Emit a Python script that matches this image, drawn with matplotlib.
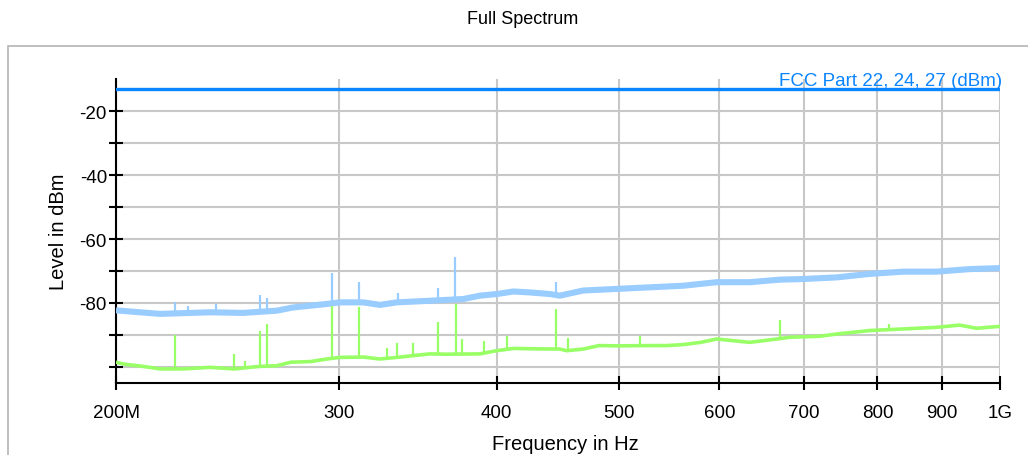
import numpy as np
import matplotlib
matplotlib.use("Agg")
import matplotlib.pyplot as plt
from matplotlib.patches import Rectangle
from matplotlib.ticker import FixedLocator, NullLocator

plt.rcParams['font.family'] = ['Liberation Sans', 'DejaVu Sans']

# --- data (frequency in MHz, level in dBm) ---
fcc_limit = -13
fcc_label = "FCC Part 22, 24, 27 (dBm)"

blue_freq = [200, 216.7, 237.4, 252, 268, 276, 293.6, 300.6, 313.8, 323.4,
             333.4, 354.2, 376.4, 388, 400, 412.4, 425, 440.6, 448.8, 468.2,
             497.6, 528.6, 561.8, 597, 634, 669.8, 698.8, 742.6, 789, 838.8,
             891.2, 946.4, 1000]
blue_level = [-82.3, -83.4, -82.9, -83.1, -82.4, -81.4, -80.3, -79.8, -79.8, -80.6,
              -79.8, -79.3, -78.75, -77.7, -77.2, -76.4, -76.7, -77.2, -77.7, -76.1,
              -75.6, -75.1, -74.6, -73.5, -73.5, -72.7, -72.5, -72.0, -70.9, -70.2,
              -70.2, -69.4, -69.1]

blue_spike_freq = [222.8, 228.2, 240, 259.9, 263.4, 296.6, 311.4, 334.4, 359.2, 370.8, 445.6]
blue_spike_peak = [-79.8, -80.8, -80.3, -77.4, -78.5, -70.6, -73.5, -77.0, -75.3, -65.7, -73.5]

green_freq = [200, 203, 210, 216.7, 226, 237.4, 248, 259.9, 268, 275,
              285, 293.6, 300.6, 313.8, 323.4, 333.4, 354.2, 365, 388, 400,
              412.4, 425, 448.8, 454.4, 468.2, 482, 497.6, 528.6, 545, 561.8,
              580, 597, 634, 666, 682, 720, 742.6, 789, 838.8, 891.2,
              929, 958, 1000]
green_level = [-98.5, -99.1, -99.8, -100.6, -100.6, -100.1, -100.6, -99.8, -99.6, -98.5,
               -98.3, -97.5, -97.0, -96.9, -97.5, -97.0, -95.9, -96.0, -95.9, -94.9,
               -94.2, -94.3, -94.4, -94.9, -94.4, -93.3, -93.4, -93.3, -93.3, -93.0,
               -92.3, -91.25, -92.3, -91.25, -90.7, -90.4, -89.7, -88.6, -88.1, -87.6,
               -86.9, -87.9, -87.3]

green_spike_freq = [222.8, 248, 253, 259.9, 263.4, 296.6, 311.4, 327.8, 333.4, 343.6,
                    359.2, 371.1, 375.7, 391.2, 407.2, 445.4, 455.8, 519.2, 669.4, 817.4]
green_spike_peak = [-90.0, -95.9, -98.2, -88.8, -86.6, -81.0, -81.4, -94.2, -92.6, -92.6,
                    -85.8, -80.3, -91.4, -92.0, -90.4, -81.9, -91.0, -90.4, -85.2, -86.6]

x_ticks = [200, 300, 400, 500, 600, 700, 800, 900, 1000]
x_ticklabels = ["200M", "300", "400", "500", "600", "700", "800", "900", "1G"]
y_ticks = [-100, -90, -80, -70, -60, -50, -40, -30, -20]
y_ticklabels = ["", "", "-80", "", "-60", "", "-40", "", "-20"]

BLUE = "#99ccff"
GREEN = "#99ff66"
FCC = "#0a84ff"

W, H = 1028, 456
fig = plt.figure(figsize=(W / 100, H / 100), dpi=100)

# outer frame
fig.patches.append(Rectangle((8 / W, -0.1), 1.2, (H - 47) / H + 0.1,
                             transform=fig.transFigure, fill=False,
                             ec="#b4b4b4", lw=1.2))
fig.text(523 / W, 1 - 19 / H, "Full Spectrum", ha="center", va="center", fontsize=13)

ax = fig.add_axes([116 / W, 72 / H, 884 / W, 304 / H])
ax.set_xscale("log")
ax.set_xlim(200, 1000)
ax.set_ylim(-105, -10)

# traces
ax.plot(blue_freq, blue_level, color=BLUE, lw=4.4, solid_capstyle="butt", zorder=3)
ax.vlines(blue_spike_freq, np.interp(blue_spike_freq, blue_freq, blue_level),
          blue_spike_peak, color=BLUE, lw=1.6, zorder=3)
ax.plot(green_freq, green_level, color=GREEN, lw=2.6, solid_capstyle="butt", zorder=3)
ax.vlines(green_spike_freq, np.interp(green_spike_freq, green_freq, green_level),
          green_spike_peak, color=GREEN, lw=1.6, zorder=3)

# limit line
ax.plot([200, 1000], [fcc_limit, fcc_limit], color=FCC, lw=2.4, zorder=4)
ax.text(1003.7, fcc_limit + 1.25, fcc_label, color=FCC, ha="right", va="baseline",
        fontsize=13.5, zorder=5)

# axes styling
ax.xaxis.set_major_locator(FixedLocator(x_ticks))
ax.xaxis.set_minor_locator(NullLocator())
ax.set_xticklabels(x_ticklabels)
ax.set_yticks(y_ticks)
ax.set_yticklabels(y_ticklabels)
ax.tick_params(direction="inout", length=10, width=1.5, labelsize=13.5)
ax.tick_params(axis="x", pad=10)
ax.tick_params(axis="y", pad=1.5)
ax.grid(True, color="#c8c8c8", lw=1.5, zorder=0)
ax.set_axisbelow(True)
for s in ("top", "right"):
    ax.spines[s].set_visible(False)
for s in ("left", "bottom"):
    ax.spines[s].set_linewidth(1.5)

ax.set_xlabel("Frequency in Hz", fontsize=14.5)
ax.set_ylabel("Level in dBm", fontsize=14.5)
ax.xaxis.set_label_coords(0.508, -0.2)
ax.xaxis.label.set_verticalalignment("center")
ax.yaxis.set_label_coords(-0.0656, 0.5)
ax.yaxis.label.set_verticalalignment("center")

fig.savefig("out.png", dpi=100)
